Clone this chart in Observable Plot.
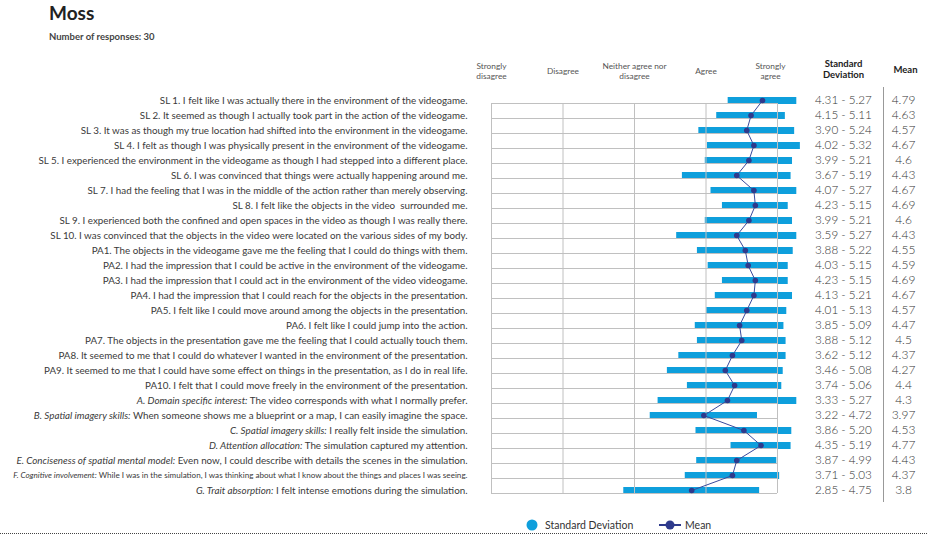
<!DOCTYPE html>
<html><head><meta charset="utf-8">
<script src="https://cdn.jsdelivr.net/npm/d3@7"></script>
<script src="https://cdn.jsdelivr.net/npm/@observablehq/plot@0.6"></script>
<style>
body{margin:0;font-family:Lato,sans-serif;background:#fff;width:927px;height:536px;overflow:hidden;position:relative}
#title{position:absolute;left:49px;top:1px;font-size:19px;font-weight:700;color:#222}
#sub{position:absolute;left:49px;top:31px;font-size:9.5px;font-weight:700;color:#444}
#chart{position:absolute;left:0;top:45px}
#legend{position:absolute;left:0;top:516px;width:927px;height:17px;border-bottom:1px dotted #444;font-size:10.5px;color:#333}
#legend span{position:absolute;top:3px}
</style></head><body>
<div id="title">Moss</div>
<div id="sub">Number of responses: 30</div>
<div id="chart"></div>
<div id="legend">
  <svg style="position:absolute;left:526px;top:3px" width="12" height="12"><circle cx="6" cy="6" r="5.5" fill="#0e9fdc"/></svg>
  <span style="left:545px">Standard Deviation</span>
  <svg style="position:absolute;left:659px;top:3px" width="24" height="12"><line x1="0" y1="6" x2="22" y2="6" stroke="#2e3a8c" stroke-width="2"/><circle cx="11" cy="6" r="4.5" fill="#2e3a8c"/></svg>
  <span style="left:685px">Mean</span>
</div>
<script>
const labels = [
  "SL 1. I felt like I was actually there in the environment of the videogame.",
  "SL 2. It seemed as though I actually took part in the action of the videogame.",
  "SL 3. It was as though my true location had shifted into the environment in the videogame.",
  "SL 4. I felt as though I was physically present in the environment of the videogame.",
  "SL 5. I experienced the environment in the videogame as though I had stepped into a different place.",
  "SL 6. I was convinced that things were actually happening around me.",
  "SL 7. I had the feeling that I was in the middle of the action rather than merely observing.",
  "SL 8. I felt like the objects in the video  surrounded me.",
  "SL 9. I experienced both the confined and open spaces in the video as though I was really there.",
  "SL 10. I was convinced that the objects in the video were located on the various sides of my body.",
  "PA1. The objects in the videogame gave me the feeling that I could do things with them.",
  "PA2. I had the impression that I could be active in the environment of the videogame.",
  "PA3. I had the impression that I could act in the environment of the video videogame.",
  "PA4. I had the impression that I could reach for the objects in the presentation.",
  "PA5. I felt like I could move around among the objects in the presentation.",
  "PA6. I felt like I could jump into the action.",
  "PA7. The objects in the presentation gave me the feeling that I could actually touch them.",
  "PA8. It seemed to me that I could do whatever I wanted in the environment of the presentation.",
  "PA9. It seemed to me that I could have some effect on things in the presentation, as I do in real life.",
  "PA10. I felt that I could move freely in the environment of the presentation.",
  "A. Domain specific interest: The video corresponds with what I normally prefer.",
  "B. Spatial imagery skills: When someone shows me a blueprint or a map, I can easily imagine the space.",
  "C. Spatial imagery skills: I really felt inside the simulation.",
  "D. Attention allocation: The simulation captured my attention.",
  "E. Conciseness of spatial mental model: Even now, I could describe with details the scenes in the simulation.",
  "F. Cognitive involvement: While I was in the simulation, I was thinking about what I know about the things and places I was seeing.",
  "G. Trait absorption: I felt intense emotions during the simulation."
];
const lows  = [4.31,4.15,3.90,4.02,3.99,3.67,4.07,4.23,3.99,3.59,3.88,4.03,4.23,4.13,4.01,3.85,3.88,3.62,3.46,3.74,3.33,3.22,3.86,4.35,3.87,3.71,2.85];
const highs = [5.27,5.11,5.24,5.32,5.21,5.19,5.27,5.15,5.21,5.27,5.22,5.15,5.15,5.21,5.13,5.09,5.12,5.12,5.08,5.06,5.27,4.72,5.20,5.19,4.99,5.03,4.75];
const means = [4.79,4.63,4.57,4.67,4.6,4.43,4.67,4.69,4.6,4.43,4.55,4.59,4.69,4.67,4.57,4.47,4.5,4.37,4.27,4.4,4.3,3.97,4.53,4.77,4.43,4.37,3.8];
const scalePoints = [1,2,3,4,5];
const scaleLabels = ["Strongly\ndisagree","Disagree","Neither agree nor\ndisagree","Agree","Strongly\nagree"];

const rows = labels.map((label,i)=>({label, lo:lows[i], hi:highs[i], mean:means[i]}));
const H = 465;
const blue = "#0e9fdc", navy = "#2e3a8c", grid = "#c0c0c0";
const chart = Plot.plot({
  width: 927, height: H,
  marginLeft: 491, marginRight: 150, marginTop: 42, marginBottom: H - 457,
  x: {domain: [1,5], axis: null},
  y: {type: "point", domain: labels, padding: 0.5, axis: null},
  style: {fontFamily: "Lato, sans-serif", background: "#fff", overflow: "visible"},
  marks: [
    Plot.ruleY(rows, {y: "label", x1: "lo", x2: "hi", stroke: blue, strokeWidth: 7}),
    Plot.ruleY(labels, {y: d => d, x1: 1, x2: 5, dy: 3, stroke: grid}),
    Plot.ruleX(scalePoints, {x: d => d, y1: () => labels[0], y2: () => labels[labels.length-1], dy: 3, stroke: grid}),
    Plot.line(rows, {x: "mean", y: "label", stroke: "#3a4a9c", strokeWidth: 1}),
    Plot.dot(rows, {x: "mean", y: "label", r: 2.8, fill: navy}),
    Plot.axisY({anchor: "left", tickSize: 0, tickPadding: 24, fontSize: 9.8, fill: "#3a3a3a", label: null}),
    Plot.text(scalePoints.slice(0,4), {x: d => d, text: (d,i) => scaleLabels[i], frameAnchor: "top", dy: -17,
      textAnchor: "middle", lineAnchor: "middle", fontSize: 8.3, fill: "#555", lineHeight: 1.22}),
    Plot.text(scalePoints.slice(4), {x: d => d, text: (d,i) => scaleLabels[4+i], frameAnchor: "top", dy: -17, dx: -7,
      textAnchor: "middle", lineAnchor: "middle", fontSize: 8.3, fill: "#555", lineHeight: 1.22}),
    Plot.text(["Standard\nDeviation"], {frameAnchor: "top-right", dx: 66, dy: -18.5, textAnchor: "middle", lineAnchor: "middle",
      fontSize: 9.5, fontWeight: 700, fill: "#222", lineHeight: 1.16}),
    Plot.text(["Mean"], {frameAnchor: "top-right", dx: 128, dy: -18, textAnchor: "middle", lineAnchor: "middle",
      fontSize: 9.5, fontWeight: 700, fill: "#222"}),
    Plot.ruleX([5], {dx: 106, stroke: "#999"}),
    Plot.text(rows, {y: "label", text: d => d.lo.toFixed(2) + " - " + d.hi.toFixed(2), frameAnchor: "right", dx: 66,
      textAnchor: "middle", fontSize: 11.7, fontWeight: 300, fill: "#333"}),
    Plot.text(rows, {y: "label", text: d => String(d.mean), frameAnchor: "right", dx: 126,
      textAnchor: "middle", fontSize: 12, fontWeight: 300, fill: "#333"})
  ]
});
document.getElementById("chart").appendChild(chart);

// italic prefixes for A–G labels
chart.querySelectorAll('g[aria-label="y-axis tick label"] text').forEach(t => {
  const s = t.textContent;
  const m = s.match(/^([A-G]\. [^:]+:)(.*)$/);
  if (!m) return;
  t.textContent = "";
  const a = document.createElementNS("http://www.w3.org/2000/svg", "tspan");
  a.setAttribute("font-style", "italic"); a.textContent = m[1];
  const b = document.createElementNS("http://www.w3.org/2000/svg", "tspan");
  b.textContent = m[2];
  t.appendChild(a); t.appendChild(b);
  if (s.startsWith("F.")) t.setAttribute("font-size", "8.1");
});
</script>
</body></html>
